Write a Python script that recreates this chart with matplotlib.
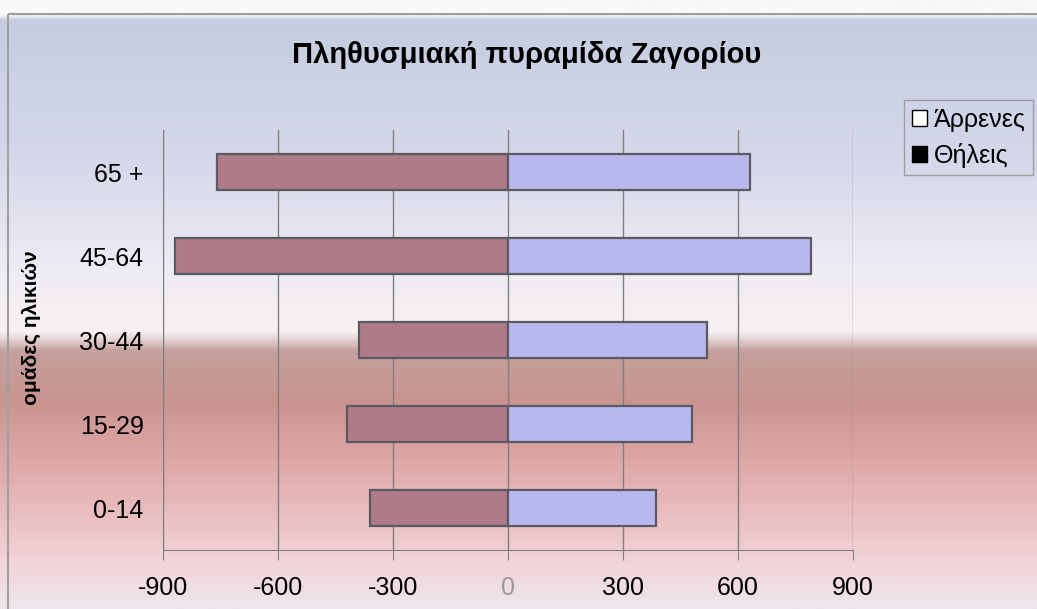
import numpy as np
import matplotlib
matplotlib.use("Agg")
import matplotlib.pyplot as plt
from matplotlib.colors import LinearSegmentedColormap
from matplotlib.patches import Patch, Rectangle

plt.rcParams['font.family'] = ['Liberation Sans', 'DejaVu Sans']

# population of Zagori by age group
groups = ['0-14', '15-29', '30-44', '45-64', '65 +']
males = [385, 480, 520, 790, 630]
females = [360, 420, 390, 870, 760]

fig = plt.figure(figsize=(10.37, 6.09), dpi=100)

# background gradient of the whole chart area
bg = fig.add_axes([0, 0, 1, 1], zorder=-5)
stops = [(0.0, '#f8f8fa'), (0.022, '#f8f8fa'), (0.03, '#c6cde0'), (0.25, '#d4d7ea'),
         (0.44, '#eeebf3'), (0.545, '#f6f2f2'), (0.578, '#c4a09c'), (0.66, '#c99490'),
         (0.77, '#e0aaaa'), (0.92, '#f2d2d6'), (1.0, '#ece6ec')]
cmap = LinearSegmentedColormap.from_list('bg', stops)
grad = np.linspace(0, 1, 600).reshape(-1, 1)
bg.imshow(grad, aspect='auto', cmap=cmap, extent=[0, 1, 1, 0])
bg.set_xlim(0, 1)
bg.set_ylim(1, 0)
bg.axis('off')
bg.add_patch(Rectangle((8 / 1037, 14 / 609), 1.0, 1.0, fill=False,
                       edgecolor='#a0a0a0', linewidth=1.5))

ax = fig.add_axes([163 / 1037, 59 / 609, (853 - 163) / 1037, (550 - 130) / 609])
ax.set_facecolor('none')

y = np.arange(len(groups))
ax.barh(y, [-f for f in females], height=0.43, color='#b07a88',
        edgecolor='#5a5a62', linewidth=1.6, zorder=3)
ax.barh(y, males, height=0.43, color='#b8b8ee',
        edgecolor='#5a5a62', linewidth=1.6, zorder=3)

ax.set_xlim(-900, 900)
ax.set_ylim(-0.5, len(groups) - 0.5)
ticks = [-900, -600, -300, 0, 300, 600, 900]
ax.set_xticks(ticks)
ax.set_xticklabels([str(t) for t in ticks], fontsize=18)
ax.get_xticklabels()[3].set_color('#9a9a9a')
ax.set_yticks(y)
ax.set_yticklabels(groups, fontsize=18)
ax.tick_params(axis='x', length=7, color='#808080', pad=12)
ax.tick_params(axis='y', length=0, pad=14)
ax.grid(axis='x', color='#808080', linewidth=1, zorder=0)
for s in ['top', 'right']:
    ax.spines[s].set_visible(False)
ax.spines['left'].set_color('#808080')
ax.spines['bottom'].set_color('#808080')

ax.set_ylabel('ομάδες ηλικιών', fontsize=15, fontweight='bold')
ax.yaxis.set_label_coords(-0.177, 0.53)

fig.text(527 / 1037, 1 - 55 / 609, 'Πληθυσμιακή πυραμίδα Ζαγορίου',
         ha='center', va='center', fontsize=21, fontweight='bold')

handles = [Patch(facecolor='white', edgecolor='black'),
           Patch(facecolor='black', edgecolor='black')]
fig.legend(handles, ['Άρρενες', 'Θήλεις'], loc='upper left',
           bbox_to_anchor=(904 / 1037, 1 - 100 / 609), fontsize=18,
           frameon=True, fancybox=False, edgecolor='#909090',
           facecolor='none', handlelength=0.6, handleheight=0.6,
           handletextpad=0.3, borderaxespad=0, borderpad=0.3, labelspacing=0.45)

fig.savefig('out.png', dpi=100)
